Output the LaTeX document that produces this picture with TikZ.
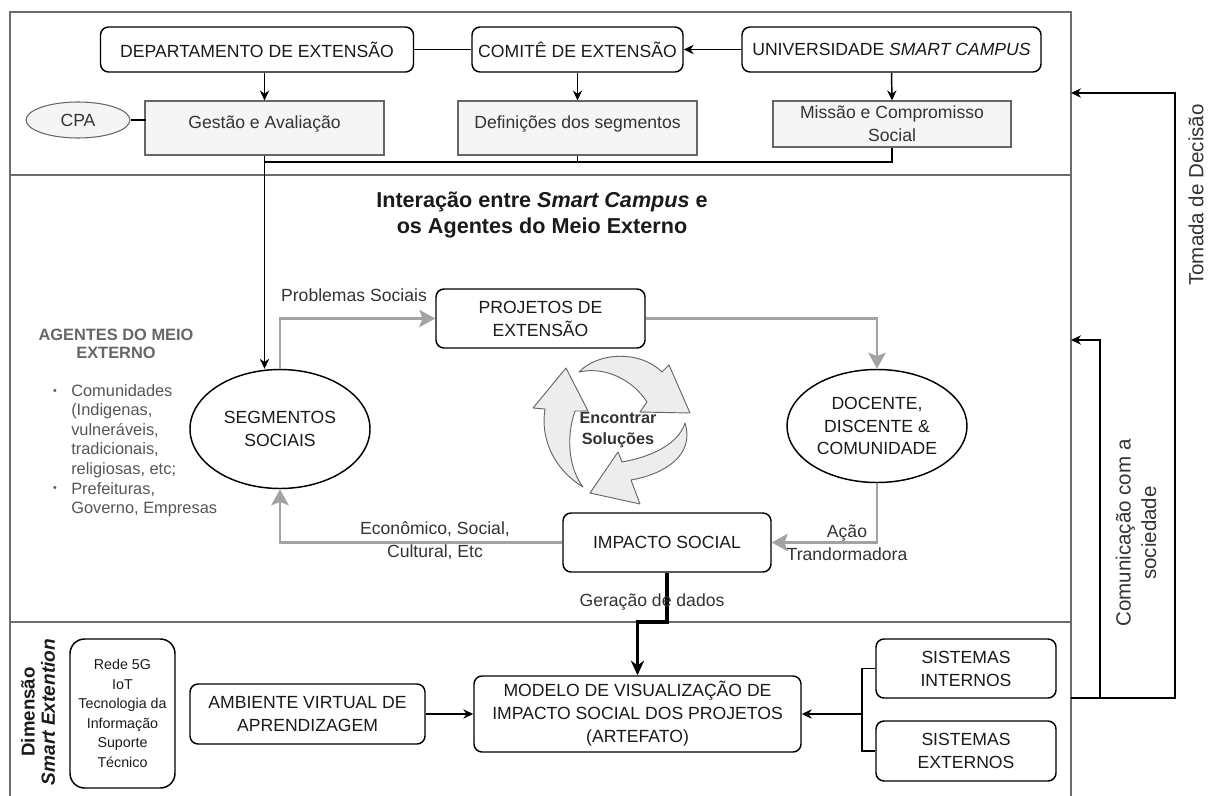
\documentclass[tikz,border=0pt]{standalone}
\usepackage{fontspec}
\setmainfont{Liberation Sans}
\usetikzlibrary{arrows.meta,shapes.geometric,calc}

\definecolor{frameclr}{HTML}{6B6B6B}
\definecolor{subfill}{HTML}{F5F5F5}
\definecolor{subline}{HTML}{666666}
\definecolor{subtext}{HTML}{333333}
\definecolor{flowgray}{HTML}{A3A3A3}
\definecolor{listgray}{HTML}{555555}
\definecolor{cyclefill}{HTML}{EDEDED}
\definecolor{boxtext}{HTML}{1A1A1A}

\newcommand{\szmain}{\fontsize{13.2}{17.2}\selectfont}
\newcommand{\szlist}{\fontsize{12.3}{14.6}\selectfont}
\newcommand{\sztitle}{\fontsize{16.2}{18.8}\selectfont}
\newcommand{\szsmall}{\fontsize{10.7}{14.6}\selectfont}
\newcommand{\szside}{\fontsize{15.4}{19}\selectfont}

\begin{document}
\begin{tikzpicture}[
  x=0.75pt, y=-0.75pt,
  rbox/.style 2 args={draw=black, line width=1.1pt, rounded corners=6pt, fill=white,
    minimum width=#1*0.75pt, minimum height=#2*0.75pt, inner sep=0pt,
    align=center, font=\szmain, text=boxtext},
  sub/.style 2 args={draw=subline, line width=0.8pt, fill=subfill,
    minimum width=#1*0.75pt, minimum height=#2*0.75pt, inner sep=0pt,
    align=center, font=\szmain, text=subtext},
  % grey box whose single text line sits in its upper part
  subtop/.style={draw=subline, line width=0.8pt, fill=subfill,
    minimum width=#1*0.75pt, text height=27*0.75pt, text depth=27*0.75pt, inner sep=0pt,
    font=\szmain, text=subtext},
  oval/.style 2 args={ellipse, draw=black, line width=1.1pt, fill=white,
    minimum width=#1*0.75pt, minimum height=#2*0.75pt, inner sep=0pt,
    align=center, font=\szmain, text=boxtext},
  lbl/.style={font=\szmain, text=subtext, inner sep=0pt, align=center},
  plain/.style={draw=black, line width=1.1pt},
  blk/.style={draw=black, line width=1.1pt, -{Stealth[length=7.5pt,width=7pt]}},
  gry/.style={draw=flowgray, line width=2.2pt, -{Stealth[length=12pt,width=13pt,inset=2.5pt]}},
  thk/.style={draw=black, line width=2.4pt, -{Stealth[length=11pt,width=10pt]}},
  cyc/.style={fill=cyclefill, draw=subline, line width=0.7pt, line join=round},
  frm/.style={draw=frameclr, line width=1.5pt}
]
\useasboundingbox (0,0) rectangle (1211,796);

% ---------- frame and bands ----------
\draw[frm] (10,796) -- (10,12) -- (1071,12) -- (1071,796);
\draw[frm] (10,175) -- (1071,175);
\draw[frm] (10,622) -- (1071,622);

% ---------- top band ----------
\node[rbox={313}{45}] (dept) at (257,49.5) {DEPARTAMENTO DE EXTENSÃO};
\node[rbox={211}{45}] (comite) at (577.5,49.5) {COMITÊ DE EXTENSÃO};
\node[rbox={299}{45}] (univ) at (891.5,49.5) {UNIVERSIDADE \textit{SMART CAMPUS}};

\node[subtop=239] (gestao) at (264.5,128) {Gestão e Avaliação};
\node[subtop=239] (defin) at (577.5,128) {Definições dos segmentos};
\node[sub={238}{46}] (missao) at (892,124) {Missão e Compromisso\\Social};
\node[ellipse, draw=subline, line width=0.8pt, fill=subfill, minimum width=104*0.75pt,
      minimum height=36*0.75pt, inner sep=0pt, font=\szmain, text=subtext] (cpa) at (78,120) {CPA};

\draw[plain] (dept.east) -- (comite.west);
\draw[blk] (univ.west) -- (comite.east);
\draw[blk] (gestao.north |- dept.south) -- (gestao.north);
\draw[blk] (comite.south) -- (defin.north);
\draw[blk] (univ.south) -- (missao.north);
\draw[plain] (cpa.east) -- ++(15,0) coordinate (cpaend);

\coordinate (bus) at (264.5,162);
\draw[plain] (defin.south) -- (defin.south |- bus);
\draw[plain] (missao.south) |- (bus);

% ---------- middle band ----------
\node[font=\sztitle\bfseries, align=center, text=boxtext] (title) at (542,215)
  {Interação entre \textit{Smart Campus} e\\os Agentes do Meio Externo};

\node[font=\fontsize{12.3}{13.5}\selectfont\bfseries, text=subline, align=center] (agentes) at (116,344)
  {AGENTES DO MEIO\\EXTERNO};
\node[font=\fontsize{8}{10}\selectfont, text=listgray] (b1) at (55,392) {\textbullet};
\node[font=\fontsize{8}{10}\selectfont, text=listgray] (b2) at (55,489.5) {\textbullet};
\node[anchor=west, font=\szlist, text=listgray, align=left, inner sep=0pt] (list1) at (71,431)
  {Comunidades\\(Indigenas,\\vulneráveis,\\tradicionais,\\religiosas, etc;};
\node[anchor=west, font=\szlist, text=listgray, align=left, inner sep=0pt] (list2) at (71,499.5)
  {Prefeituras,\\Governo, Empresas};

\node[oval={180}{119}] (seg) at (280,429) {SEGMENTOS\\SOCIAIS};
\node[rbox={209}{59}] (proj) at (540.5,318.5) {PROJETOS DE\\EXTENSÃO};
\node[oval={180}{113}] (doc) at (877,426) {DOCENTE,\\DISCENTE \&\\COMUNIDADE};
\node[rbox={208}{59}] (imp) at (667,542.5) {IMPACTO SOCIAL};

\draw[blk] (gestao.south) -- (gestao.south |- seg.north);

\draw[gry] (seg.north) |- (proj.west);
\draw[gry] (proj.east) -| (doc.north);
\draw[gry] (doc.south) |- (imp.east);
\draw[gry] (imp.west) -| (seg.south);

\node[lbl] (lprob) at (354,295) {Problemas Sociais};
\node[lbl] (lecon) at (435,540.5) {Econômico, Social,\\Cultural, Etc};
\node[lbl] (lacao) at (847,542.5) {Ação\\Trandormadora};

% cycle of three curved arrows
\path[cyc] (545,409) .. controls (540,440) and (555,470) .. (583,487)
  .. controls (570,470) and (565,440) .. (575,411) -- (588,411) -- (566,368) -- (533,408) -- cycle;
\path[cyc] (579,372) .. controls (598,352) and (640,350) .. (662,372)
  -- (669,365) -- (690,413) -- (640,412) -- (647,402)
  .. controls (633,380) and (605,366) .. (579,372) -- cycle;
\path[cyc] (685,423) .. controls (695,455) and (665,474) .. (631,480)
  -- (640,504) -- (590,493) -- (618,452) -- (622,462)
  .. controls (650,457) and (678,445) .. (685,423) -- cycle;
\node[font=\fontsize{12.2}{15.5}\selectfont\bfseries, text=subtext, align=center] (sol) at (618,430)
  {Encontrar\\Soluções};

% ---------- bottom band ----------
\node[rbox={327}{76}] (modelo) at (637.5,714)
  {MODELO DE VISUALIZAÇÃO DE\\IMPACTO SOCIAL DOS PROJETOS\\(ARTEFATO)};
\node[rbox={235}{60}] (ava) at (307.5,714) {AMBIENTE VIRTUAL DE\\APRENDIZAGEM};
\node[rbox={180}{59}] (sint) at (966,668.5) {SISTEMAS\\INTERNOS};
\node[rbox={180}{60}] (sext) at (966,751) {SISTEMAS\\EXTERNOS};
\node[rbox={105}{149}, rounded corners=11pt, font=\szsmall] (rede) at (122.5,713.5)
  {Rede 5G\\IoT\\Tecnologia da\\Informação\\Suporte\\Técnico};

\node[rotate=90, font=\fontsize{14}{17}\selectfont\bfseries, text=boxtext] (dim) at (28,712) {Dimensão};
\node[rotate=90, font=\fontsize{14.3}{17}\selectfont\bfseries\itshape, text=boxtext] (smx) at (48,712) {Smart Extention};

\coordinate (tk) at (imp.south |- 0,622);
\draw[thk] (imp.south) -- (tk) -| (modelo.north);
\node[lbl] (lger) at (652,602) {Geração de dados};

\draw[blk] (ava.east) -- (ava.east -| modelo.west);
\coordinate (sj) at (862,714);
\draw[plain] (sint.west) -| (sj) |- (sext.west);
\draw[blk] (sj) -- (modelo.east);

% ---------- feedback on the right ----------
\coordinate (rb) at (1071,698);
\coordinate (tA) at (1071,93);
\coordinate (tC) at (1175,93);
\coordinate (cA) at (1071,340);
\coordinate (cC) at (1100,340);
\coordinate (cB) at (1100,698);
\draw[blk] (rb) -| (tC) -- (tA);
\draw[blk] (cB) -- (cC) -- (cA);

\node[rotate=90, font=\szside, text=subtext] (tom) at (1196,195) {Tomada de Decisão};
\node[rotate=90, font=\szside, text=subtext, align=center] (com) at (1136,533)
  {Comunicação com a\\sociedade};
\end{tikzpicture}
\end{document}
